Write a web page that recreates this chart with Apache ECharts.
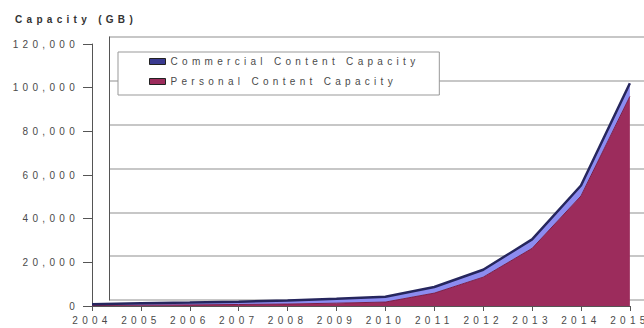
<!DOCTYPE html>
<html>
<head>
<meta charset="utf-8">
<script src="https://cdn.jsdelivr.net/npm/echarts@6/dist/echarts.min.js"></script>
<style>
  html, body { margin: 0; padding: 0; background: #fff; }
  #chart { width: 644px; height: 328px; }
  /* the old chart uses very wide letter spacing */
  #chart text { letter-spacing: 4.3px; }
</style>
</head>
<body>
<div id="chart"></div>
<script>
const years = ['2004', '2005', '2006', '2007', '2008', '2009', '2010', '2011', '2012', '2013', '2014', '2015']
// values (GB)
const personal = [200, 400, 500, 700, 900, 1300, 1800, 5900, 13200, 26400, 50400, 96000]
const commercial = [600, 900, 1100, 1300, 1600, 2000, 2400, 2800, 3400, 4100, 4800, 6000]
const legendNames = ['Commercial Content Capacity', 'Personal Content Capacity']

const chart = echarts.init(document.getElementById('chart'), null, { renderer: 'svg' })

const option = {
  backgroundColor: '#fff',
  animation: false,
  title: {
    text: 'Capacity (GB)',
    left: 10,
    top: 9,
    textStyle: { fontFamily: 'Liberation Sans', fontSize: 10, fontWeight: 'bold', color: '#333' }
  },
  legend: {
    data: legendNames,
    orient: 'vertical',
    left: 118,
    top: 52,
    padding: [4.5, 136, 8.5, 31],
    itemWidth: 16,
    itemHeight: 6,
    itemGap: 10,
    icon: 'rect',
    backgroundColor: '#fff',
    borderColor: '#999',
    borderWidth: 1,
    itemStyle: { borderColor: '#222', borderWidth: 1 },
    textStyle: { fontFamily: 'Liberation Sans', fontSize: 10, color: '#4a4a4a' }
  },
  grid: [
    // back wall (shifted for the 3d look)
    { left: 109, right: 0, top: 37, bottom: 28 },
    // front plane
    { left: 92, right: 13, top: 44, bottom: 22 }
  ],
  xAxis: [
    {
      gridIndex: 0, type: 'category', data: years, boundaryGap: false,
      axisLine: { show: false }, axisTick: { show: false }, axisLabel: { show: false }
    },
    {
      gridIndex: 1, type: 'category', data: years, boundaryGap: false,
      axisLine: { lineStyle: { color: '#555' } },
      axisTick: { length: 5, lineStyle: { color: '#555' } },
      axisLabel: { margin: 9, fontFamily: 'Liberation Sans', fontSize: 10, color: '#4a4a4a' }
    }
  ],
  yAxis: [
    {
      gridIndex: 0, type: 'value', min: 0, max: 120000, interval: 20000,
      axisLine: { show: true, lineStyle: { color: '#555' } },
      axisTick: { show: false },
      axisLabel: { show: false },
      splitLine: { lineStyle: { color: '#b4b4b4', width: 1.5 } }
    },
    {
      gridIndex: 1, type: 'value', min: 0, max: 120000, interval: 20000,
      axisLine: { show: true, lineStyle: { color: '#555' } },
      axisTick: { show: true, length: 9, lineStyle: { color: '#555' } },
      axisLabel: {
        margin: 13, fontFamily: 'Liberation Sans', fontSize: 10, color: '#4a4a4a',
        formatter: function (val) {
          return val.toLocaleString('en-US')
        }
      },
      splitLine: { show: false }
    }
  ],
  series: [
    {
      name: 'Personal Content Capacity',
      type: 'line',
      xAxisIndex: 1,
      yAxisIndex: 1,
      stack: 'total',
      data: personal,
      symbol: 'none',
      itemStyle: { color: '#9c2c5c' },
      lineStyle: { color: '#7a1f48', width: 1 },
      areaStyle: { color: '#9c2c5c', opacity: 1 }
    },
    {
      name: 'Commercial Content Capacity',
      type: 'line',
      xAxisIndex: 1,
      yAxisIndex: 1,
      stack: 'total',
      data: commercial,
      symbol: 'none',
      itemStyle: { color: '#3a3a90' },
      lineStyle: { color: '#26265e', width: 2.5 },
      areaStyle: { color: '#8c8cf0', opacity: 1 }
    }
  ]
}

chart.setOption(option)
</script>
</body>
</html>
